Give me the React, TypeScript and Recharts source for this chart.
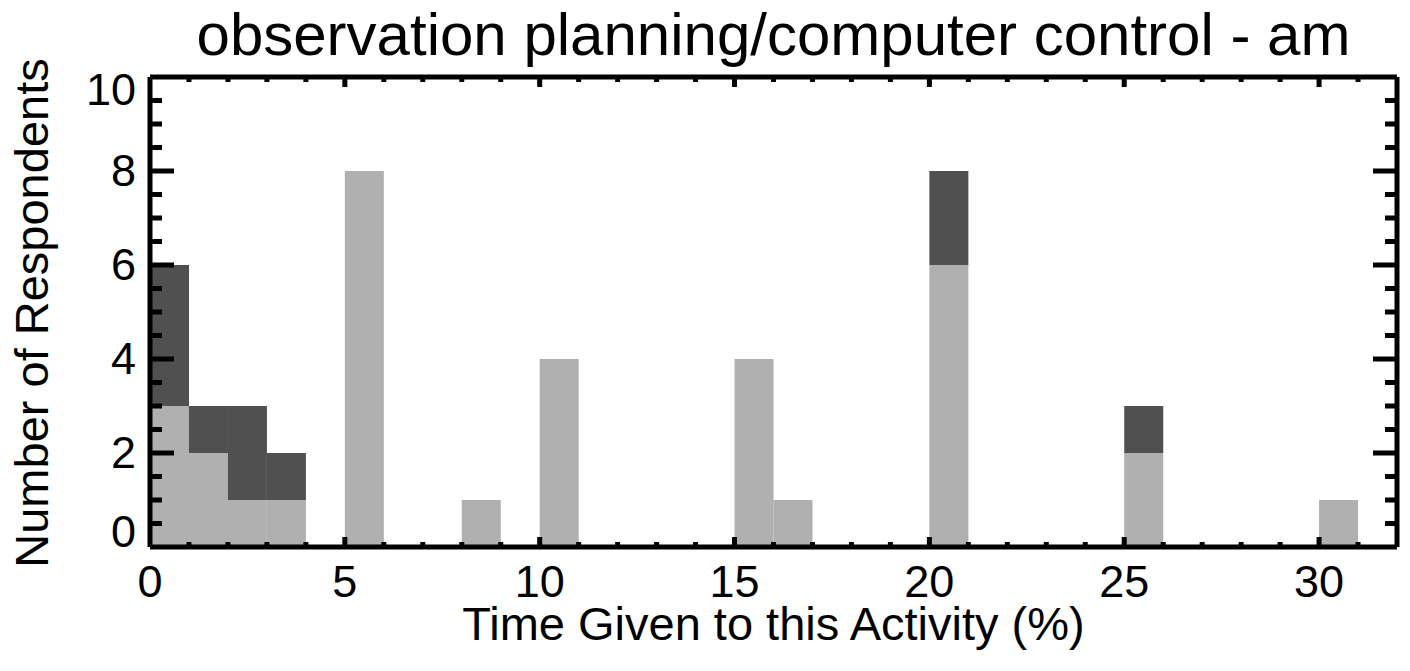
import React from "react";
import { BarChart, Bar, XAxis, YAxis, Label } from "recharts";

// ---- data ----
const BINS = [0, 1, 2, 3, 4, 5, 6, 7, 8, 9, 10, 11, 12, 13, 14, 15, 16, 17, 18, 19, 20, 21, 22, 23, 24, 25, 26, 27, 28, 29, 30, 31];
const LIGHT = [3, 2, 1, 1, 0, 8, 0, 0, 1, 0, 4, 0, 0, 0, 0, 4, 1, 0, 0, 0, 6, 0, 0, 0, 0, 2, 0, 0, 0, 0, 1, 0];
const DARK = [3, 1, 2, 1, 0, 0, 0, 0, 0, 0, 0, 0, 0, 0, 0, 0, 0, 0, 0, 0, 2, 0, 0, 0, 0, 1, 0, 0, 0, 0, 0, 0];
const X_MAJOR = [0, 5, 10, 15, 20, 25, 30];
const Y_MAJOR = [0, 2, 4, 6, 8, 10];
const Y_DOMAIN: [number, number] = [0, 10];
const TITLE = "observation planning/computer control - am";
const X_TITLE = "Time Given to this Activity (%)";
const Y_TITLE = "Number of Respondents";

const data = BINS.map((b, i) => ({ bin: b, light: LIGHT[i], dark: DARK[i] }));
const Y_TICKS = Array.from({ length: (Y_DOMAIN[1] - Y_DOMAIN[0]) * 2 + 1 }, (_, i) => Y_DOMAIN[0] + i * 0.5);

const CHART_W = 1402;
const CHART_H = 663;
const MARGIN = { top: 68, right: 12, bottom: 123, left: 141 };
const PLOT_W = CHART_W - MARGIN.left - MARGIN.right - 2;

const FONT = "'Liberation Sans', Arial, Helvetica, sans-serif";
const TICK_FS = 45;
const LABEL_FS = 47;
const TITLE_FS = 60;
const SW = 5;

const halfBand = (payload: any) =>
  typeof payload?.offset === "number" && payload.offset > 0 ? payload.offset : PLOT_W / BINS.length / 2;

const BottomTick = (props: any) => {
  const { x, y, payload } = props;
  const v = payload.value;
  const ex = x - halfBand(payload);
  const major = X_MAJOR.includes(v);
  const len = major ? 10 : 5;
  return (
    <g>
      {v !== BINS[0] && (
        <line x1={ex} x2={ex} y1={y} y2={y - len} stroke="#000" strokeWidth={SW} />
      )}
      {major && (
        <text x={ex} y={y + 50} textAnchor="middle" fontSize={TICK_FS} fontFamily={FONT} fill="#000">
          {v}
        </text>
      )}
    </g>
  );
};

const TopTick = (props: any) => {
  const { x, y, payload } = props;
  const v = payload.value;
  const ex = x - halfBand(payload);
  const major = X_MAJOR.includes(v);
  const len = major ? 10 : 5;
  if (v === BINS[0]) return <g />;
  return <line x1={ex} x2={ex} y1={y} y2={y + len} stroke="#000" strokeWidth={SW} />;
};

const isEnd = (v: number, d: [number, number]) => v === d[0] || v === d[1];

const LeftTick = (props: any) => {
  const { x, y, payload } = props;
  const v = payload.value;
  const major = Y_MAJOR.includes(v);
  const len = major ? 24 : 12;
  let dy = 15;
  if (v === Y_DOMAIN[1]) dy = 28;
  if (v === Y_DOMAIN[0]) dy = 0;
  return (
    <g>
      {!isEnd(v, Y_DOMAIN) && (
        <line x1={x} x2={x + len} y1={y} y2={y} stroke="#000" strokeWidth={SW} />
      )}
      {major && (
        <text x={x - 14} y={y + dy} textAnchor="end" fontSize={TICK_FS} fontFamily={FONT} fill="#000">
          {v}
        </text>
      )}
    </g>
  );
};

const RightTick = (props: any) => {
  const { x, y, payload } = props;
  const v = payload.value;
  const major = Y_MAJOR.includes(v);
  const len = major ? 24 : 12;
  if (isEnd(v, Y_DOMAIN)) return <g />;
  return <line x1={x} x2={x - len} y1={y} y2={y} stroke="#000" strokeWidth={SW} />;
};

const TitleLabel = (props: any) => {
  const vb = props.viewBox || { x: 142, y: 68, width: 1247, height: 1 };
  return (
    <text x={vb.x + vb.width / 2} y={vb.y + vb.height - 22} textAnchor="middle" fontSize={TITLE_FS} fontFamily={FONT} fill="#000">
      {TITLE}
    </text>
  );
};

const XTitleLabel = (props: any) => {
  const vb = props.viewBox || { x: 142, y: 539, width: 1247, height: 1 };
  return (
    <text x={vb.x + vb.width / 2} y={vb.y + 93} textAnchor="middle" fontSize={LABEL_FS} fontFamily={FONT} fill="#000">
      {X_TITLE}
    </text>
  );
};

const YTitleLabel = (props: any) => {
  const vb = props.viewBox || { x: 141, y: 69, width: 1, height: 470 };
  const cx = vb.x + vb.width - 102;
  const cy = vb.y + vb.height / 2 + 1;
  return (
    <text x={cx} y={cy} transform={`rotate(-90, ${cx}, ${cy})`} textAnchor="middle" fontSize={LABEL_FS} fontFamily={FONT} fill="#000">
      {Y_TITLE}
    </text>
  );
};

const lineStyle = { stroke: "#000", strokeWidth: SW };

export default function App() {
  return (
    <div style={{ width: CHART_W, height: CHART_H }}>
      <BarChart
        width={CHART_W}
        height={CHART_H}
        data={data}
        margin={MARGIN}
        barCategoryGap={0}
        barGap={0}
      >
        <XAxis
          xAxisId="cat"
          dataKey="bin"
          type="category"
          orientation="bottom"
          height={1}
          interval={0}
          tickSize={0}
          tickMargin={0}
          tickLine={false}
          axisLine={lineStyle}
          tick={<BottomTick />}
        >
          <Label content={<XTitleLabel />} />
        </XAxis>
        <XAxis
          xAxisId="catTop"
          dataKey="bin"
          type="category"
          orientation="top"
          height={1}
          interval={0}
          tickSize={0}
          tickMargin={0}
          tickLine={false}
          axisLine={lineStyle}
          tick={<TopTick />}
        >
          <Label content={<TitleLabel />} />
        </XAxis>
        <YAxis
          yAxisId="left"
          orientation="left"
          type="number"
          domain={Y_DOMAIN}
          allowDataOverflow
          ticks={Y_TICKS}
          interval={0}
          width={1}
          tickSize={0}
          tickMargin={0}
          tickLine={false}
          axisLine={lineStyle}
          tick={<LeftTick />}
        >
          <Label content={<YTitleLabel />} />
        </YAxis>
        <YAxis
          yAxisId="right"
          orientation="right"
          type="number"
          domain={Y_DOMAIN}
          allowDataOverflow
          ticks={Y_TICKS}
          interval={0}
          width={1}
          tickSize={0}
          tickMargin={0}
          tickLine={false}
          axisLine={lineStyle}
          tick={<RightTick />}
        />
        <Bar dataKey="light" stackId="s" fill="#b0b0b0" xAxisId="cat" yAxisId="left" isAnimationActive={false} />
        <Bar dataKey="dark" stackId="s" fill="#505050" xAxisId="cat" yAxisId="left" isAnimationActive={false} />
      </BarChart>
    </div>
  );
}
